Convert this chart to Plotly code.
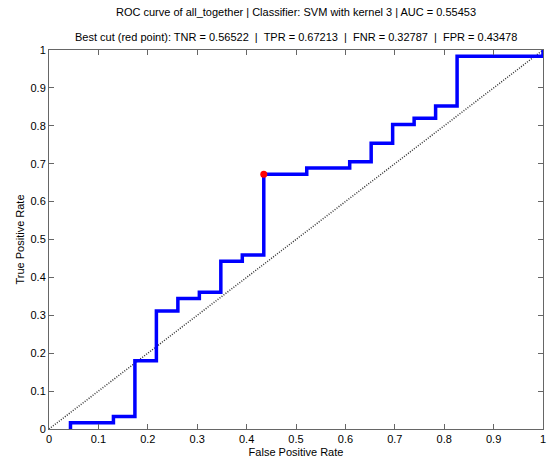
import plotly.graph_objects as go

# ROC operating points (step curve): 23 negatives, 61 positives
fpr = [0.04348, 0.04348, 0.13043, 0.13043, 0.17391, 0.17391, 0.21739, 0.21739,
       0.26087, 0.26087, 0.30435, 0.30435, 0.34783, 0.34783, 0.39130, 0.39130,
       0.43478, 0.43478, 0.52174, 0.52174, 0.60870, 0.60870, 0.65217, 0.65217,
       0.69565, 0.69565, 0.73913, 0.73913, 0.78261, 0.78261, 0.82609, 0.82609,
       1.0, 1.0]
tpr = [0.0, 0.01639, 0.01639, 0.03279, 0.03279, 0.18033, 0.18033, 0.31148,
       0.31148, 0.34426, 0.34426, 0.36066, 0.36066, 0.44262, 0.44262, 0.45902,
       0.45902, 0.67213, 0.67213, 0.68852, 0.68852, 0.70492, 0.70492, 0.75410,
       0.75410, 0.80328, 0.80328, 0.81967, 0.81967, 0.85246, 0.85246, 0.98361,
       0.98361, 1.0]

best_fpr = 0.43478
best_tpr = 0.67213
best_tnr = 0.56522
best_fnr = 0.32787
auc = 0.55453

tick_vals = [0, 0.1, 0.2, 0.3, 0.4, 0.5, 0.6, 0.7, 0.8, 0.9, 1]
tick_text = ["0", "0.1", "0.2", "0.3", "0.4", "0.5", "0.6", "0.7", "0.8", "0.9", "1"]

font_family = "Liberation Sans, Arial, sans-serif"

fig = go.Figure()

# chance diagonal
fig.add_trace(go.Scatter(x=[0, 1], y=[0, 1], mode="lines",
                         line=dict(color="#333333", width=1.5, dash="1px,1.5px"),
                         hoverinfo="skip", showlegend=False))

# ROC curve
fig.add_trace(go.Scatter(x=fpr, y=tpr, mode="lines",
                         line=dict(color="#0000ff", width=3.5),
                         showlegend=False))

# best cut point
fig.add_trace(go.Scatter(x=[best_fpr], y=[best_tpr], mode="markers",
                         marker=dict(color="#ff0000", size=7),
                         showlegend=False))

axis_common = dict(
    range=[0, 1], tickvals=tick_vals, ticktext=tick_text,
    ticks="inside", ticklen=5, tickcolor="#666666",
    showline=True, linecolor="#666666", linewidth=1, mirror="ticks",
    showgrid=False, zeroline=False, automargin=False,
    tickfont=dict(family=font_family, size=11, color="#000000"),
)

fig.update_layout(
    width=548, height=460,
    margin=dict(l=49, r=5, t=50, b=31),
    paper_bgcolor="#ffffff", plot_bgcolor="#ffffff",
    font=dict(family=font_family, size=11, color="#000000"),
    xaxis=dict(**axis_common,
               title=dict(text="False Positive Rate", standoff=4,
                          font=dict(family=font_family, size=11))),
    yaxis=dict(**axis_common,
               title=dict(text="True Positive Rate", standoff=3,
                          font=dict(family=font_family, size=11))),
    annotations=[
        dict(text=f"ROC curve of all_together | Classifier: SVM with kernel 3 | AUC = {auc:.5f}",
             xref="paper", yref="paper", x=0.5, y=1, yshift=38,
             xanchor="center", yanchor="middle", showarrow=False,
             font=dict(family=font_family, size=11)),
        dict(text=(f"Best cut (red point): TNR = {best_tnr:.5f}  |  TPR = {best_tpr:.5f}"
                   f"  |  FNR = {best_fnr:.5f}  |  FPR = {best_fpr:.5f}"),
             xref="paper", yref="paper", x=0.5, y=1, yshift=13,
             xanchor="center", yanchor="middle", showarrow=False,
             font=dict(family=font_family, size=11)),
    ],
)

fig.write_html("out.html")
